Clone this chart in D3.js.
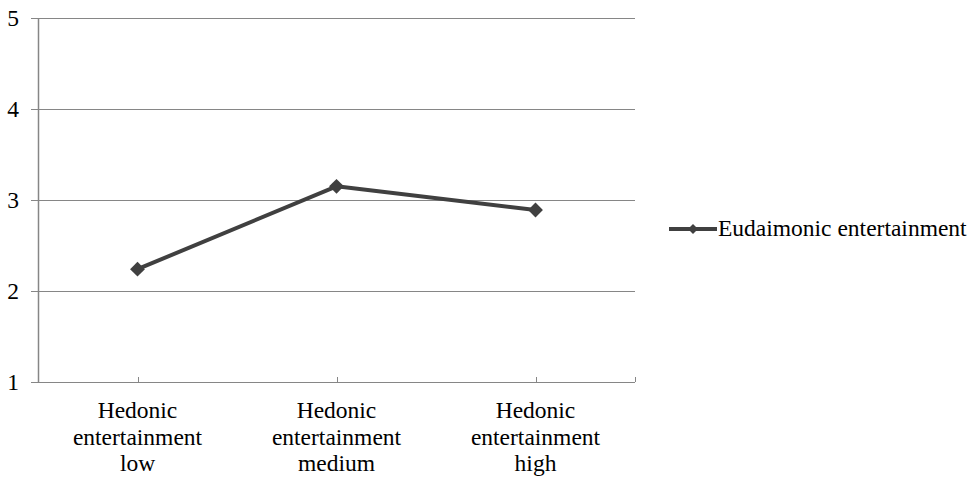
<!DOCTYPE html>
<html><head><meta charset="utf-8">
<script src="https://cdn.jsdelivr.net/npm/d3@7"></script>
<style>body{margin:0;background:#fff}svg{display:block}svg text{font-family:'Liberation Serif' !important}</style>
</head><body><svg id="c" width="969" height="478"></svg>
<script>
const categories = [["Hedonic","entertainment","low"],["Hedonic","entertainment","medium"],["Hedonic","entertainment","high"]];
const seriesName = "Eudaimonic entertainment";
const values = [2.24, 3.15, 2.89];
const yTicks = [1, 2, 3, 4, 5];

const FONT = "'Liberation Serif'";
const FS = 23.5;
const svg = d3.select("#c");
const L = 38, R = 635, T = 18, B = 382;
const x = d3.scaleBand().domain(d3.range(categories.length)).range([L, R]);
const y = d3.scaleLinear().domain([1, 5]).range([B, T]);
const axisColor = "#868686", lineColor = "#404040";
const font = s => s.style("font-family", FONT, "important").attr("font-size", FS);

svg.append("g").selectAll("line").data(yTicks).join("line")
  .attr("x1", L - 7).attr("x2", R).attr("y1", d => y(d) + 0.5).attr("y2", d => y(d) + 0.5)
  .attr("stroke", axisColor).attr("stroke-width", 1);
svg.append("line").attr("x1", L + 0.5).attr("x2", L + 0.5).attr("y1", T).attr("y2", B)
  .attr("stroke", axisColor).attr("stroke-width", 1.5);
svg.append("g").selectAll("text").data(yTicks).join("text")
  .attr("x", 19).attr("y", d => y(d) + 7.5).attr("text-anchor", "end")
  .call(font).text(d => d);
const xt = d3.range(categories.length).map(i => x(i) + x.bandwidth() / 2).concat([R]);
svg.append("g").selectAll("line").data(xt).join("line")
  .attr("x1", d => Math.round(d) + 0.5).attr("x2", d => Math.round(d) + 0.5)
  .attr("y1", B - 5).attr("y2", B).attr("stroke", axisColor);
const xl = svg.append("g").selectAll("text").data(categories).join("text")
  .attr("text-anchor", "middle").call(font)
  .attr("transform", (d, i) => `translate(${x(i) + x.bandwidth() / 2},0)`);
xl.selectAll("tspan").data(d => d).join("tspan")
  .attr("x", 0).attr("y", (d, j) => 418 + j * 26.5).text(d => d);

const px = i => x(i) + x.bandwidth() / 2;
svg.append("path").datum(values)
  .attr("d", d3.line().x((d, i) => px(i)).y(d => y(d)))
  .attr("fill", "none").attr("stroke", lineColor).attr("stroke-width", 4).attr("stroke-linejoin", "round");
const diamond = d3.symbol().type(d3.symbolSquare).size(110);
svg.append("g").selectAll("path").data(values).join("path")
  .attr("d", diamond).attr("transform", (d, i) => `translate(${px(i)},${y(d)}) rotate(45)`)
  .attr("fill", lineColor);

const ly = 229;
svg.append("line").attr("x1", 669).attr("x2", 717).attr("y1", ly).attr("y2", ly)
  .attr("stroke", lineColor).attr("stroke-width", 4);
svg.append("path").attr("d", d3.symbol().type(d3.symbolSquare).size(50))
  .attr("transform", `translate(693,${ly}) rotate(45)`).attr("fill", lineColor);
svg.append("text").attr("x", 718).attr("y", 235.5).call(font).text(seriesName);
</script></body></html>
